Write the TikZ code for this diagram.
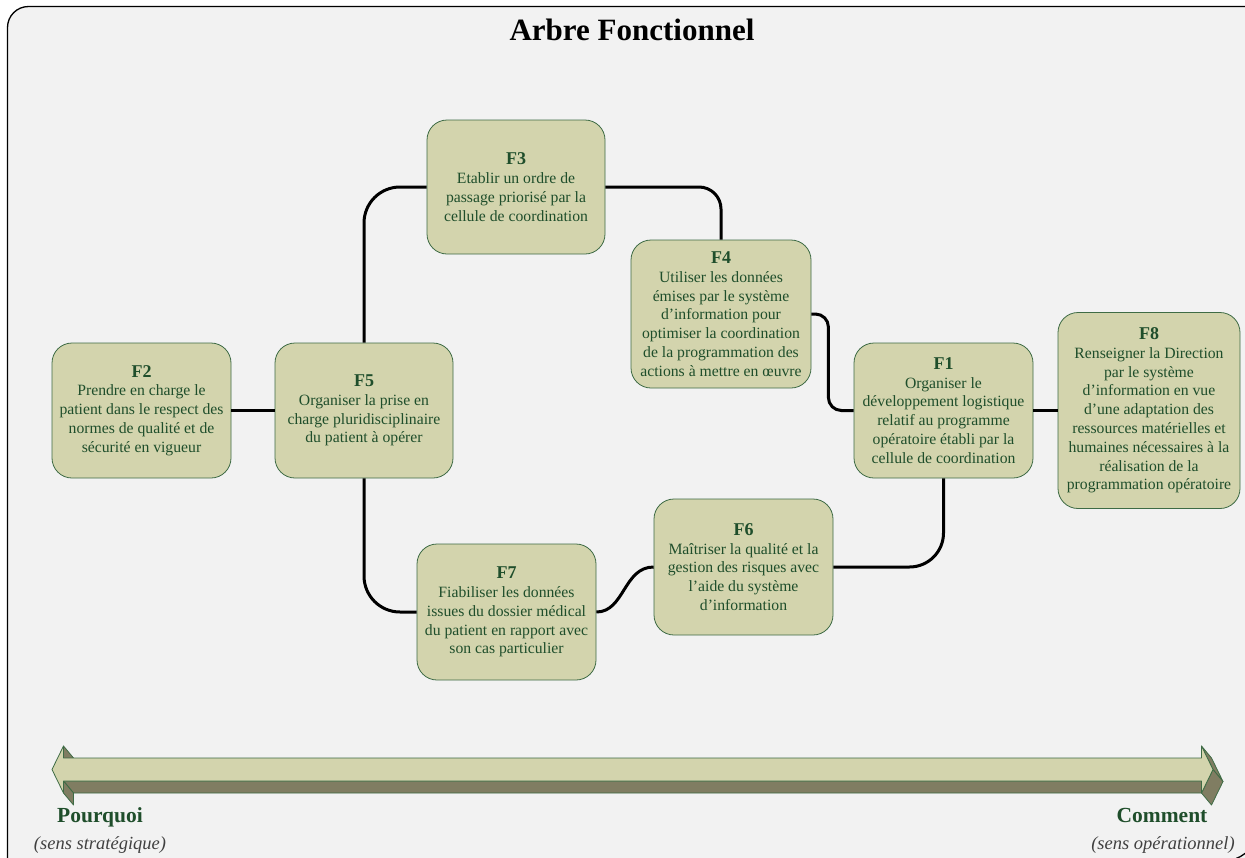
\documentclass[tikz,border=0pt]{standalone}
\usepackage{fontspec}
\setmainfont{Liberation Serif}
\usetikzlibrary{calc}
\definecolor{boxfill}{HTML}{D3D4AD}
\definecolor{boxline}{HTML}{3E6B45}
\definecolor{txtgreen}{HTML}{1F4E2B}
\definecolor{bgfill}{HTML}{F2F2F2}
\definecolor{arrdark}{HTML}{807D62}
\definecolor{italgray}{HTML}{404040}
\newcommand{\fnlab}[1]{{\fontsize{18}{18.8}\selectfont\bfseries #1}}
\tikzset{
  fbox/.style={draw=boxline, line width=0.8pt, fill=boxfill, rounded corners=20pt,
    inner sep=0pt, align=center, text=txtgreen, font=\fontsize{15.7}{18.8}\selectfont},
  fsize/.style 2 args={minimum width=#1pt, minimum height=#2pt},
  conn/.style={draw=black, line width=3pt},
  arrface/.style={fill=boxfill, draw=boxline, line width=0.8pt, line join=round},
  arrside/.style={fill=arrdark, draw=boxline, line width=0.8pt, line join=round},
  axislab/.style={font=\fontsize{21.5}{24}\selectfont\bfseries, text=txtgreen, anchor=base},
  senslab/.style={font=\fontsize{18.5}{22}\selectfont\itshape, text=italgray, anchor=base}
}
\begin{document}
\begin{tikzpicture}[x=1pt,y=-1pt]
\useasboundingbox (0,0) rectangle (1245,857);
\clip (0,0) rectangle (1245,857);
\fill[white] (0,0) rectangle (1245,857);
% frame
\fill[bgfill, rounded corners=21pt] (7.5,900) -- (7.5,6.5) -- (1300,6.5) -- (1300,900) -- cycle;
\draw[line width=1.3pt, rounded corners=21pt] (7.5,900) -- (7.5,6.5) -- (1300,6.5);
\draw[line width=1.3pt] (1236,858.5) .. controls (1240,857) .. (1247,852);

% title
\node[font=\fontsize{31}{36}\selectfont\bfseries, anchor=base] (title) at (632,40) {Arbre Fonctionnel};

% boxes
\node[fbox, fsize={179}{135}] (F2) at (141.5,410.5) {\fnlab{F2}\\Prendre en charge le\\patient dans le respect des\\normes de qualité et de\\sécurité en vigueur};
\node[fbox, fsize={178}{135}] (F5) at (364,410.5) {\fnlab{F5}\\Organiser la prise en\\charge pluridisciplinaire\\du patient à opérer};
\node[fbox, fsize={178}{134}] (F3) at (516,187) {\fnlab{F3}\\Etablir un ordre de\\passage priorisé par la\\cellule de coordination};
\node[fbox, fsize={180}{148}] (F4) at (721,314) {\fnlab{F4}\\Utiliser les données\\émises par le système\\d’information pour\\optimiser la coordination\\de la programmation des\\actions à mettre en œuvre};
\node[fbox, fsize={179}{135}] (F1) at (943.5,410.5) {\fnlab{F1}\\Organiser le\\développement logistique\\relatif au programme\\opératoire établi par la\\cellule de coordination};
\node[fbox, fsize={182}{196}] (F8) at (1149,410.5) {\fnlab{F8}\\Renseigner la Direction\\par le système\\d’information en vue\\d’une adaptation des\\ressources matérielles et\\humaines nécessaires à la\\réalisation de la\\programmation opératoire};
\node[fbox, fsize={179}{136}] (F6) at (743.5,567) {\fnlab{F6}\\Maîtriser la qualité et la\\gestion des risques avec\\l’aide du système\\d’information};
\node[fbox, fsize={179}{136}] (F7) at (506.5,612) {\fnlab{F7}\\Fiabiliser les données\\issues du dossier médical\\du patient en rapport avec\\son cas particulier};

% connectors
\draw[conn] (F2.east) -- (F5.west);
\draw[conn] (F1.east) -- (F8.west);
\draw[conn, rounded corners=36pt] (F5.north) |- (F3.west);
\draw[conn, rounded corners=22pt] (F3.east) -| (F4.north);
\draw[conn, rounded corners=13pt] (F4.east) -- ++(17,0) |- (F1.west);
\draw[conn, rounded corners=36pt] (F5.south) |- (F7.west);
\draw[conn] (F7.east) .. controls +(28,0) and +(-30,0) .. (F6.west);
\draw[conn, rounded corners=34pt] (F6.east) -| (F1.south);

% 3D double arrow
\coordinate (p1) at (52,769.5);
\coordinate (p2) at (63.5,746);
\coordinate (p3) at (63.5,758);
\coordinate (p4) at (1201.5,758);
\coordinate (p5) at (1201.5,746);
\coordinate (p6) at (1213,769.5);
\coordinate (p7) at (1201.5,793);
\coordinate (p8) at (1201.5,781);
\coordinate (p9) at (63.5,781);
\coordinate (p10) at (63.5,793);
\foreach \a/\b in {2/3,8/9,9/10,5/6,6/7}{
  \path[arrside] (p\a) -- (p\b) -- ($(p\b)+(10,12)$) -- ($(p\a)+(10,12)$) -- cycle;
}
\path[arrface] (p1) -- (p2) -- (p3) -- (p4) -- (p5) -- (p6) -- (p7) -- (p8) -- (p9) -- (p10) -- cycle;

% axis labels
\node[axislab] (pq) at (100,822) {Pourquoi};
\node[axislab] (cm) at (1162,822) {Comment};
\node[senslab] (ss) at (100,849) {(sens stratégique)};
\node[senslab] (so) at (1163,849) {(sens opérationnel)};
\end{tikzpicture}
\end{document}
